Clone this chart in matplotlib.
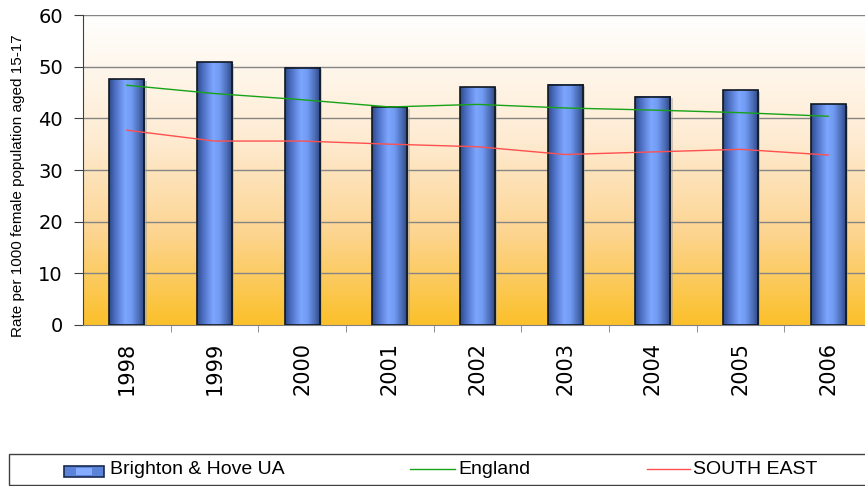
import numpy as np
import matplotlib
matplotlib.use('Agg')
import matplotlib.pyplot as plt
from matplotlib.colors import LinearSegmentedColormap
from matplotlib.patches import Rectangle
from matplotlib.lines import Line2D

years = ['1998', '1999', '2000', '2001', '2002', '2003', '2004', '2005', '2006']
brighton = [47.6, 50.9, 49.8, 42.1, 46.0, 46.5, 44.2, 45.4, 42.7]
england = [46.4, 44.8, 43.6, 42.2, 42.7, 42.0, 41.6, 41.1, 40.4]
south_east = [37.7, 35.6, 35.6, 35.0, 34.5, 33.0, 33.5, 34.0, 32.9]

W, H = 865, 486
fig = plt.figure(figsize=(W / 100, H / 100), dpi=100)
# plot area runs past the right edge of the picture, like the original
ax = fig.add_axes([83 / W, (H - 325) / H, (872 - 83) / W, (325 - 15) / H])

x = np.arange(len(years))
ax.set_xlim(-0.5, len(years) - 0.5)
ax.set_ylim(0, 60)

# background: white at top -> orange at bottom
bg = LinearSegmentedColormap.from_list('bg', [(0, '#FBC02A'), (0.3, '#FDD592'),
                                              (0.6, '#FEEBD2'), (1, '#FFFFFF')])
ax.imshow(np.linspace(0, 1, 256).reshape(-1, 1), cmap=bg, origin='lower',
          extent=[-0.5, len(years) - 0.5, 0, 60], aspect='auto', zorder=0)

ax.set_yticks(range(0, 61, 10))
for gy in range(10, 61, 10):
    ax.axhline(gy, color='#858585', lw=1, zorder=1)

# cylinder bars
cyl = LinearSegmentedColormap.from_list('cyl', [(0, '#2E4A86'), (0.15, '#4A6CC0'),
                                                (0.45, '#7DA6FF'), (0.62, '#729CF4'),
                                                (0.85, '#4A6AB4'), (1, '#2C4478')])
bw = 0.40
grad = np.linspace(0, 1, 64).reshape(1, -1)
for xi, v in zip(x, brighton):
    ax.add_patch(Rectangle((xi - bw / 2 + 0.025, 0), bw, v - 0.3, color='#A0A0A0',
                           alpha=0.5, zorder=2, lw=0))
    ax.imshow(grad, cmap=cyl, extent=[xi - bw / 2, xi + bw / 2, 0, v],
              aspect='auto', zorder=3)
    ax.add_patch(Rectangle((xi - bw / 2, 0), bw, v, fill=False, ec='#101820',
                           lw=1.2, zorder=4))

ax.plot(x, england, color='#17A317', lw=1, zorder=5)
ax.plot(x, south_east, color='#FF5050', lw=1, zorder=5)

ax.set_xticks(x)
ax.set_xticklabels(years, rotation=90, fontsize=15, family='DejaVu Sans')
ax.set_xticks(np.arange(0.5, len(years) - 0.5, 1), minor=True)
ax.tick_params(axis='x', which='major', length=0, pad=12)
ax.tick_params(axis='x', which='minor', length=5, color='#808080')
ax.tick_params(axis='y', length=6.5, labelsize=14, color='#404040', pad=8)
for s in ('top', 'right'):
    ax.spines[s].set_visible(False)
ax.spines['left'].set_color('#404040')
ax.spines['bottom'].set_color('#808080')
ax.set_ylabel('Rate per 1000 female population aged 15-17', family='Liberation Sans',
              fontsize=11)
ax.yaxis.set_label_coords(-58 / (872 - 83), 0.45)

# legend box
fig.add_artist(Rectangle((9 / W, 1 / H), 870 / W, 31 / H, transform=fig.transFigure,
                         fill=False, ec='#404040', lw=1))
ly = (H - 469) / H
fig.add_artist(Rectangle((64 / W, (H - 477) / H), 40 / W, 11 / H, transform=fig.transFigure,
                         fc='#5B84D8', ec='#1A2A50', lw=1.2))
fig.add_artist(Rectangle((76 / W, (H - 475) / H), 16 / W, 7 / H, transform=fig.transFigure,
                         fc='#86ACFF', lw=0))
fig.add_artist(Line2D([410 / W, 455 / W], [ly, ly], transform=fig.transFigure,
                      color='#17A317', lw=1))
fig.add_artist(Line2D([647 / W, 690 / W], [ly, ly], transform=fig.transFigure,
                      color='#FF5050', lw=1))
for tx, t in [(110, 'Brighton & Hove UA'), (458, 'England'), (693, 'SOUTH EAST')]:
    fig.text(tx / W, ly, t, family='Liberation Sans', fontsize=14, va='center',
             ha='left')

fig.savefig('out.png', dpi=100)
